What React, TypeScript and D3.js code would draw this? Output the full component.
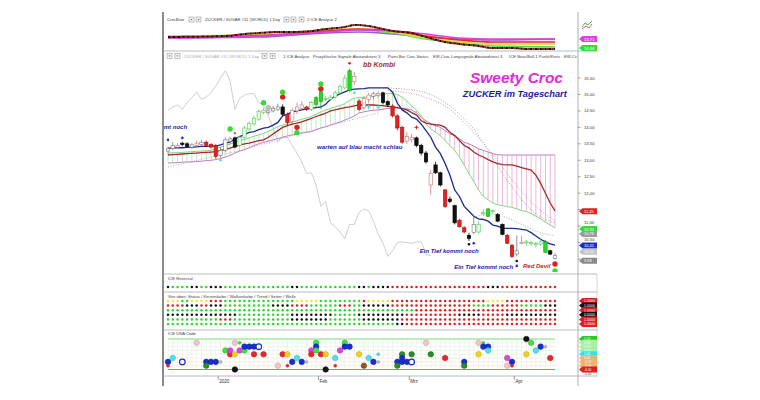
import React from 'react';
import * as d3 from 'd3';

// ---------------- DATA ----------------
const opens = [13.28,13.35,13.40,13.52,13.50,13.40,13.45,13.48,13.55,13.48, 13.45,13.15,13.30,13.58,13.68,13.45,13.70,13.95,14.10,14.25, 14.45,14.45,14.50,14.55,14.62,14.40,14.18,14.50,14.58,14.62, 14.55,14.70,14.78,14.88,14.85,14.92,15.05,15.20,15.12,15.55, 14.80,14.60,14.85,14.95,14.98,15.05,14.78,14.65,14.35,14.00, 13.58,13.62,13.68,13.45,13.22,12.25,12.86,12.62,12.10,11.82, 11.62,11.18,10.95,10.72,10.80,10.82,11.38,11.30,11.45,11.35, 11.05,10.72,10.42,10.15,10.50,10.50,10.48,10.44,10.45,10.20, 10.25,10.02];
const highs = [13.42,13.55,13.52,13.56,13.55,13.52,13.60,13.62,13.60,13.52, 13.50,13.40,13.70,13.70,13.72,13.75,14.05,14.18,14.35,14.55, 14.60,14.58,14.65,14.72,14.70,14.45,14.60,14.75,14.80,14.65, 14.80,14.95,15.15,14.95,14.98,15.12,15.30,15.60,15.78,15.68, 14.85,14.95,15.05,15.08,15.10,15.08,14.82,14.70,14.40,14.05, 13.85,13.80,13.72,13.50,13.28,12.70,12.95,12.65,12.12,11.90, 11.65,11.22,11.00,10.80,11.35,11.15,11.52,11.55,11.50,11.40, 11.08,10.76,10.45,10.72,10.70,10.58,10.56,10.52,10.65,10.58, 10.28,10.18];
const lows = [13.20,13.30,13.35,13.42,13.38,13.35,13.40,13.44,13.40,13.35, 13.05,13.08,13.25,13.50,13.38,13.40,13.65,13.90,14.05,14.20, 14.40,14.40,14.45,14.50,14.35,14.05,14.10,14.40,14.52,14.50, 14.50,14.60,14.55,14.78,14.80,14.88,15.00,15.15,15.08,15.30, 14.50,14.55,14.75,14.85,14.90,14.70,14.62,14.30,13.90,13.50, 13.50,13.55,13.40,13.15,12.90,11.95,12.58,12.20,11.55,11.70, 11.05,10.95,10.78,10.55,10.75,10.78,11.30,11.28,11.38,11.12, 10.72,10.45,10.03,10.08,10.45,10.40,10.40,10.35,10.40,10.18, 10.12,9.98];
const closes = [13.35,13.45,13.45,13.48,13.42,13.47,13.52,13.55,13.45,13.40, 13.12,13.30,13.62,13.65,13.40,13.70,13.98,14.12,14.28,14.48, 14.52,14.50,14.58,14.62,14.40,14.15,14.52,14.62,14.68,14.55, 14.75,14.90,15.08,14.85,14.92,15.05,15.25,15.50,15.72,15.40, 14.55,14.88,14.98,15.02,15.03,14.75,14.68,14.35,13.98,13.55, 13.72,13.70,13.45,13.22,12.95,12.60,12.62,12.25,11.60,11.75, 11.10,10.98,10.82,10.62,11.05,11.05,11.42,11.52,11.47,11.15, 10.75,10.48,10.08,10.25,10.50,10.52,10.50,10.47,10.52,10.52, 10.15,10.10];
const candleStyle = ('wwpkkwpwrr' + 'rwwwkhhhhh' + 'hwwwkrpppr' + 'hgghhhhhgp' + 'rppwpkkrrr' + 'ppkkkpkkrk' + 'krrkwhhghk' + 'krrwphhhhg' + 'kw').split('');

const tenkan = [13.37,13.37,13.38,13.38,13.39,13.40,13.41,13.42,13.42,13.43, 13.43,13.47,13.52,13.55,13.65,13.72,13.78,13.85,13.87,13.93, 13.98,14.00,14.07,14.15,14.35,14.40,14.47,14.50,14.53,14.56, 14.58,14.60,14.62,14.70,14.85,14.95,15.02,15.08,15.14,15.16, 15.17,15.18,15.20,15.20,15.20,15.20,15.20,15.07,14.74,14.53, 14.44,14.31,14.25,14.10,13.90,13.70,13.40,13.20,12.90,12.55, 12.10,11.90,11.60,11.45,11.30,11.22,11.20,11.15,11.03,11.00, 10.94,10.93,10.93,10.92,10.90,10.88,10.80,10.70,10.60,10.52, 10.46,10.42];
const kijun = [13.16,13.17,13.18,13.19,13.20,13.21,13.22,13.23,13.24,13.25, 13.26,13.30,13.33,13.37,13.42,13.46,13.50,13.52,13.56,13.60, 13.62,13.70,13.80,13.90,14.00,14.05,14.10,14.13,14.17,14.22, 14.27,14.33,14.38,14.43,14.50,14.53,14.57,14.60,14.62,14.65, 14.68,14.68,14.68,14.68,14.67,14.66,14.64,14.62,14.60,14.57, 14.53,14.45,14.38,14.20,14.13,14.10,14.08,14.07,14.00,13.85, 13.75,13.60,13.45,13.37,13.25,13.16,13.10,13.02,12.95,12.90, 12.87,12.86,12.86,12.82,12.78,12.74,12.70,12.55,12.30,12.00, 11.70,11.46];
const spanA = [13.22,13.23,13.23,13.24,13.25,13.26,13.27,13.28,13.29,13.30, 13.35,13.40,13.45,13.49,13.55,13.60,13.63,13.68,13.73,13.77, 13.82,13.88,13.95,14.02,14.07,14.11,14.16,14.20,14.25,14.29, 14.33,14.40,14.47,14.53,14.57,14.62,14.66,14.72,14.82,14.89, 14.90,14.91,14.93,14.95,14.97,15.00,15.03,15.03,15.00,14.92, 14.80,14.65,14.53,14.35,14.10,13.95,13.85,13.75,13.60,13.45, 13.30,13.10,12.85,12.60,12.35,12.10,11.90,11.80,11.70,11.65, 11.62,11.59,11.57,11.52,11.47,11.44,11.38,11.30,11.22,11.12, 11.03,10.95];
const spanB = [12.92,12.92,12.93,12.94,12.95,12.95,12.96,12.97,12.99,13.00, 13.02,13.05,13.10,13.15,13.22,13.28,13.32,13.38,13.45,13.50, 13.55,13.58,13.62,13.66,13.70,13.74,13.77,13.80,13.83,13.85, 13.87,13.93,13.98,14.02,14.07,14.12,14.16,14.22,14.28,14.35, 14.44,14.47,14.50,14.52,14.53,14.55,14.57,14.58,14.59,14.58, 14.56,14.53,14.45,14.30,14.20,14.12,14.05,14.00,13.90,13.80, 13.75,13.65,13.55,13.50,13.43,13.35,13.30,13.25,13.20,13.17, 13.16,13.16,13.16,13.16,13.16,13.16,13.16,13.16,13.16,13.16, 13.16,13.16];

const dotAIdx = [45, 52, 57, 61, 64, 67, 70, 73, 76, 79, 81];
const dotAVal = [15.20, 15.12, 14.85, 14.40, 13.95, 13.30, 12.60, 12.00, 11.50, 11.20, 11.10];
const dotBIdx = [46, 53, 59, 63, 67, 71, 74, 77, 81];
const dotBVal = [15.12, 14.95, 14.55, 14.00, 13.35, 12.60, 12.05, 11.60, 11.15];
const dotCIdx = [64, 67, 70, 74, 77, 81];
const dotCVal = [11.25, 11.38, 11.30, 11.05, 10.85, 10.70];
const dotLeftIdx = [0, 15, 30, 44];
const dotLeftVal = [12.80, 13.30, 13.90, 14.44];

const markerIdx = [0, 3, 11, 13, 14, 20, 21, 24, 24, 27, 27, 32, 32, 38, 39, 42, 44, 52, 63, 64, 73, 73, 81, 81];
const markerPrice = [13.62, 13.68, 13.00, 13.95, 13.82, 14.75, 14.60, 15.07, 14.92, 14.00, 13.84, 15.32, 15.17, 15.95, 15.05, 14.62, 14.62, 14.00, 10.45, 10.48, 9.94, 9.79, 9.85, 9.64];
const markerColor = ['#2030c0','#2030c0','#40e0e8','#33dd33','#888','#33dd33','#bbbbbb','#33dd33','#e02020','#e02020','#33dd33','#33dd33','#e02020','#e02020','#40e0e8','#40e0e8','#40e0e8','#e02020','#111','#2030c0','#111','#2030c0','#e02020','#33dd33'];
const markerKind = ['d','d','d','c','d','c','c','c','c','c','c','c','c','d','d','x','x','x','d','d','d','d','c','c'];

const priceTicks = [15.5, 15, 14.5, 14, 13.5, 13, 12.5, 12, 11.5, 11, 10.5, 10];
const priceBoxVal = [11.45, 10.91, 10.76, 10.41, 10.22, 9.95];
const priceBoxText = ['11,45', '10,91', '10,76', '10,41', '10,22', '9,98'];
const priceBoxColor = ['#dd2020', '#33dd33', '#9a9a9a', '#1f2fc0', '#c4c4c4', '#8a8a8a'];

const monthLabels = ['2020', 'Feb', 'Mrz', 'Apr'];
const monthIdx = [10.5, 31.5, 50.5, 72.5];

const reversalRow = 'k' + 'gggg' + 'kk' + 'gg' + 'kkk' + 'gggggggggggggg' + 'kk' + 'gggggggggggg' + 'kk' + 'g' + 'kkkk' + 'rrrrrrrrrrrrrrrrrrrr' + 'kkk' + 'rrrrrrrrrrrr';
const statusRows = [
  'yyy' + 'gg' + 'yyyy' + 'rrr' + 'ggggggggggggggg' + 'yyyyy' + 'ggggggggg' + 'r' + 'yyyyy' + 'rrrrrrrrrrrrrrrrrrrr' + 'yyyy' + 'rrrrrrrrrrr',
  'rrrr' + 'kkk' + 'rr' + 'kkk' + 'gggggggggg' + 'kkkk' + 'rrrr' + 'gggggg' + 'rrr' + 'gg' + 'kkkkkk' + 'rrrrrrrrrrrrrrrrr' + 'gggg' + 'rrrrrr' + 'ggggg' + 'kkk',
  'gggggggggggggggggggggggggggggggggggggggggggggggggggg' + 'rrrrrrrrrrrrrrrrrrrrrrrrrrrrrr',
  'kkkkkkkkkkkkkkk' + 'ggggggggggg' + 'kkkkkkkkk' + 'ggggg' + 'kkkkkkkkkk' + 'rrrrrrrrrrr' + 'kkkkk' + 'rrrrr' + 'kkkkkkkkkkk',
  'ggggggggggg' + 'rrr' + 'gggggggggggg' + 'kkkkkkkk' + 'ggggggg' + 'kkkkkkkk' + 'rrrrrrrrrrrrrrrrrrrrrrrrrrrrrrrrr',
  'gggggggggggggggggggggggggggggggggggggggggggggggg' + 'kk' + 'rrrrrrrrrrrrrrrrrrrrrrrrrrrrrrrr',
];
const statusLabels = ['1.0000', '1.0000', '1.0000', '0.0000', '1.0000', '1.0000'];

const dnaIdx = [0,0,1,3,6,8,9,10,8,11,12,13,13,14,14,14,15,15,16,16,17,18,19,18,20,23,24,25,25,26,27,28,29,30,30,31,31,31,32,33,33,35,35,36,37,37,38,40,41,42,43,44,44,48,48,49,49,49,50,51,51,54,55,58,62,62,65,66,65,66,67,67,71,71,72,72,75,76,75,77,78,79,80];
const dnaLevel = [-1,-2,0,-1,4,-1,-1,-1,-2,-1,2,1,2,1,4,-3,4,2,2,3,3,3,3,1,1,-2,1,1,-2,-1,0,-1,-1,2,1,4,3,2,1,1,-3,0,-2,2,4,3,3,1,-2,0,-1,1,-1,-1,-2,1,0,-1,-1,-1,1,4,1,0,-1,-2,4,4,1,3,3,2,0,-2,-1,-2,5,4,1,2,3,3,0];
const dnaColor = ['b','r','c','b','p','b','b','b','d','s','g','r','m','y','p','k','g','m','g','b','b','b','b','r','r','p','r','y','r','b','c','b','s','m','r','g','b','g','r','y','k','c','r','m','g','b','b','y','n','c','b','c','s','b','d','d','b','b','b','b','d','p','d','r','b','d','p','g','y','b','b','c','m','p','b','r','k','g','y','c','b','s','r'];
const dnaKind = ['f','s','f','o','f','f','f','f','f','s','f','f','f','f','f','f','s','f','f','f','f','f','o','f','f','f','f','f','s','f','f','f','s','f','f','f','f','f','f','f','f','f','s','f','f','f','f','f','f','f','f','s','s','f','f','f','f','f','f','o','f','f','f','f','f','f','f','s','f','f','f','f','f','f','f','s','f','f','f','f','f','s','f'];
const dnaLabelVal = [5, 4, 3, 2, 1, 0, -1, -2, -3];
const dnaLabelText = ['5.00', '4.00', '3.00', '2.00', '1.00', '0.00', '-1.00', '-2.00', '-4.00'];
const dnaLabelColor = ['#22cc22', '#aaeeaa', '#aaeeaa', '#aaeeaa', '#33e0e8', '#f5b070', '#f5b070', '#f5b070', '#dd2020'];

const crocIdx = [0, 12, 16, 19, 23, 26, 30, 33, 37, 39, 42, 44, 47, 51, 54, 58, 61, 65, 68, 72, 75, 81];
const crocDash = [13, 14, 16, 17, 18, 18, 19, 21, 23, 25, 24, 22, 19, 17, 13, 8, 6, 4, 2, 2, 1, 1];
const crocBandIdx = [0, 19, 33, 40, 47, 54, 61, 68, 81];
const crocMagenta = [12, 14, 18, 20, 19, 16, 12, 11, 11];
const crocRed = [13, 14.5, 19, 21, 19, 14, 10, 8, 8];
const crocYellow = [14, 15, 20, 21, 18, 12, 8, 6, 6];
const crocGreen = [14, 15, 19, 20, 17, 11, 7, 4, 3];
const crocPurple = [12, 13, 17, 18, 16, 13, 11, 10, 11];

const annoText = ['bb Kombi', 'Sweety Croc', 'ZUCKER im Tageschart', 'warten auf blau macht schlau', 'Ein Tief kommt noch', 'Ein Tief kommt noch', 'Red Devil', 'Ein Tief kommt noch'];
const annoIdx = [40.8, 63.2, 61.7, 31.2, 52.7, 59.9, 74.3, 4.0];
const annoPrice = [15.82, 15.35, 14.91, 13.33, 10.17, 9.71, 9.72, 13.95];
const annoColor = ['#a8301f', '#e22ad8', '#1d1aa8', '#2323a8', '#2323a8', '#2323a8', '#d42020', '#2323a8'];
const annoSize = [7, 15.5, 9.3, 6.1, 6, 6, 6, 6];

// ---------------- STYLE MAPS ----------------
const candleFill: Record<string, string> = { g: '#22dd22', h: '#eafbea', r: '#e42020', k: '#111111', w: '#ffffff', p: '#ffffff' };
const candleStroke: Record<string, string> = { g: '#14a014', h: '#55cc55', r: '#b01010', k: '#000000', w: '#777777', p: '#c87878' };
const dotColor: Record<string, string> = { g: '#2bd82b', r: '#dd1f1f', k: '#111111', y: '#f2e43a' };
const dnaPalette: Record<string, string> = { b: '#1a2ecc', r: '#e02a2a', c: '#4fe0e8', p: '#f2c4c8', d: '#2a8a2a', s: '#bbbbbb', g: '#44dd44', m: '#e040e0', y: '#f0d020', k: '#111111', n: '#8a5a1a' };

const FONT = 'Liberation Sans, Arial, sans-serif';
const fmt = (v: number) => d3.format('.2f')(v).replace('.', ',');

export default function App() {
  const n = closes.length;
  const x = d3.scaleLinear().domain([0, n - 1]).range([168, 555]);
  const y = d3.scaleLinear().domain([10, 15.5]).range([259, 78]);
  const yTop = d3.scaleLinear().domain([0, 36]).range([50, 14]);
  const yDna = d3.scaleLinear().domain([-3, 5]).range([369.5, 339]);
  const yStatus = d3.scalePoint<number>().domain(d3.range(6)).range([301, 324]);

  const fullLine = (arr: number[]) => d3.line<number>().x((_, i) => x(i)).y((v) => y(v))(arr) || '';
  const knotLine = (idx: number[], vals: number[], ys: d3.ScaleLinear<number, number>, curve: d3.CurveFactory = d3.curveMonotoneX) =>
    d3.line<number>().x((_, k) => x(idx[k])).y((v) => ys(v)).curve(curve)(vals) || '';
  const chikou = d3.line<number>().x((_, k) => x(k)).y((v) => y(v))(closes.slice(26)) || '';

  const pennant = (yy: number) => `M579,${yy} L582.5,${yy - 3} L597,${yy - 3} L597,${yy + 3} L582.5,${yy + 3} Z`;

  const smallText = { fontFamily: FONT, fontSize: 4.2, fill: '#444' };

  const btn = (bx: number, by: number, key: string) => (
    <g key={key}>
      <rect x={bx} y={by} width={5} height={5} fill="#f4f4f4" stroke="#888" strokeWidth={0.5} />
      <path d={`M${bx + 1.5},${by + 2} L${bx + 3.5},${by + 2} L${bx + 2.5},${by + 3.3} Z`} fill="#555" />
    </g>
  );

  // tick label placement relative to coloured value boxes
  const boxYs = priceBoxVal.map((v) => y(v));
  const tickLabelY = (p: number): number | null => {
    const ty = y(p);
    const near = boxYs.map((by) => by - ty);
    if (near.some((d) => Math.abs(d) < 2.5)) return null; // hidden under a box
    const below = near.filter((d) => d >= 2.5 && d < 7);
    if (below.length) return ty - 1.8;
    return ty + 1.5;
  };

  return (
    <svg width={760} height={400} style={{ position: 'absolute', left: 0, top: 0, background: '#fff' }} fontFamily={FONT}>
      <defs>
        <clipPath id="mainClip"><rect x={164} y={52} width={413} height={220} /></clipPath>
        <clipPath id="topClip"><rect x={164} y={13} width={413} height={38} /></clipPath>
      </defs>
      <rect x={0} y={0} width={760} height={400} fill="#fff" />

      {/* frame */}
      <line x1={163} x2={163} y1={12} y2={386} stroke="#8a8a8a" strokeWidth={2} />
      <line x1={578} x2={578} y1={12} y2={386} stroke="#999" strokeWidth={0.8} />
      <line x1={597} x2={597} y1={274} y2={377} stroke="#bbb" strokeWidth={0.6} />
      {[51, 274, 292, 330, 376].map((yy) => (
        <line key={yy} x1={163} x2={597} y1={yy} y2={yy} stroke="#aaa" strokeWidth={0.8} />
      ))}

      {/* ---------------- TOP CrocBow panel ---------------- */}
      <text x={167} y={21} {...smallText}>CrocBow</text>
      {btn(189, 17, 't1')}
      {btn(196, 17, 't2')}
      <text x={205} y={21} {...smallText}>ZUCKER / SUGAR #11 (WORLD)  1 Day</text>
      {btn(284, 17, 't3')}
      {btn(291, 17, 't4')}
      {btn(299, 17, 't5')}
      <text x={307} y={21} {...smallText}>2 ICE Analyse 2</text>
      <g clipPath="url(#topClip)">
        <path d={d3.area<number>().x((_, k) => x(crocBandIdx[k])).y0((_, k) => yTop(crocGreen[k])).y1((v) => yTop(v)).curve(d3.curveMonotoneX)(crocMagenta) || ''} fill="#f6cfe3" opacity={0.55} />
        <path d={knotLine(crocBandIdx, crocPurple, yTop)} fill="none" stroke="#9a5ad8" strokeWidth={1.6} />
        <path d={knotLine(crocBandIdx, crocGreen, yTop)} fill="none" stroke="#55dd55" strokeWidth={1.6} />
        <path d={knotLine(crocBandIdx, crocYellow, yTop)} fill="none" stroke="#f0d830" strokeWidth={1.6} />
        <path d={knotLine(crocBandIdx, crocRed, yTop)} fill="none" stroke="#dd3030" strokeWidth={1.4} />
        <path d={knotLine(crocBandIdx, crocMagenta, yTop)} fill="none" stroke="#e040d8" strokeWidth={1.6} />
        <path d={knotLine(crocIdx, crocDash, yTop)} fill="none" stroke="#111" strokeWidth={2} strokeDasharray="2.4,2.4" />
        <path d={knotLine(crocIdx, crocDash, yTop)} fill="none" stroke="#9a1a1a" strokeWidth={2} strokeDasharray="2.4,2.4" strokeDashoffset={2.4} />
      </g>
      <path d={pennant(yTop(crocMagenta[crocMagenta.length - 1]))} fill="#e040e0" />
      <text x={584} y={yTop(crocMagenta[crocMagenta.length - 1]) + 1.6} fontSize={4.2} fill="#fff">13,71</text>
      <path d={pennant(yTop(crocGreen[crocGreen.length - 1]) + 1)} fill="#33dd33" />
      <text x={584} y={yTop(crocGreen[crocGreen.length - 1]) + 2.6} fontSize={4.2} fill="#fff">10,96</text>
      <path d="M582,27 L585,23 L588,25 L592,21" fill="none" stroke="#2a9a2a" strokeWidth={0.8} />
      <path d="M582,29 L586,26 L589,28 L592,24" fill="none" stroke="#cc3333" strokeWidth={0.8} />

      {/* ---------------- MAIN panel ---------------- */}
      {btn(167, 53.5, 'm1')}
      {btn(175, 53.5, 'm2')}
      <text x={184} y={57.8} fontFamily={FONT} fontSize={4.2} fill="#aaa">ZUCKER / SUGAR #11 (WORLD)  1 Day</text>
      {btn(262, 53.5, 'm3')}
      {btn(270, 53.5, 'm4')}
      <g clipPath="url(#mainClip)">
        <text x={283} y={57.8} {...smallText}>1 ICE Analyse</text>
        <text x={313} y={57.8} {...smallText}>Prozyklische Signale Abstandstest 3</text>
        <text x={388} y={57.8} {...smallText}>Paint Bar Croc Status</text>
        <text x={433} y={57.8} {...smallText}>EW-Croc Longsignale Abstandstest 3</text>
        <text x={509} y={57.8} {...smallText}>ICE Bear/Bull 1 Punkt/Kreis</text>
        <text x={564} y={57.8} {...smallText}>EW-Croc Status</text>

        {/* cloud hatching */}
        {spanA.map((a, i) => (
          <line key={'h' + i} x1={x(i)} x2={x(i)} y1={y(a)} y2={y(spanB[i])} stroke={a >= spanB[i] ? '#b5e3b5' : '#e6a6cf'} strokeWidth={0.8} />
        ))}
        {/* chikou */}
        <path d={chikou} fill="none" stroke="#cfcfcf" strokeWidth={1} />
        {/* dotted envelopes */}
        <path d={knotLine(dotLeftIdx, dotLeftVal, y)} fill="none" stroke="#9a9a9a" strokeWidth={0.8} strokeDasharray="1,1.6" />
        <path d={knotLine(dotAIdx, dotAVal, y)} fill="none" stroke="#9a9a9a" strokeWidth={0.9} strokeDasharray="1,1.6" />
        <path d={knotLine(dotBIdx, dotBVal, y)} fill="none" stroke="#c98aa8" strokeWidth={0.9} strokeDasharray="1,1.6" />
        <path d={knotLine(dotCIdx, dotCVal, y)} fill="none" stroke="#88b888" strokeWidth={0.9} strokeDasharray="1,1.6" />
        {/* ichimoku lines */}
        <path d={fullLine(spanB)} fill="none" stroke="#c27cc8" strokeWidth={1} />
        <path d={fullLine(spanA)} fill="none" stroke="#84d484" strokeWidth={1} />
        <path d={fullLine(kijun)} fill="none" stroke="#a32a2a" strokeWidth={1.3} />
        <path d={fullLine(tenkan)} fill="none" stroke="#1c2a8c" strokeWidth={1.3} />

        {/* candles */}
        {closes.map((c, i) => {
          const s = candleStyle[i];
          const o = opens[i];
          const top = y(Math.max(o, c));
          const h = Math.max(1, y(Math.min(o, c)) - top);
          return (
            <g key={'c' + i}>
              <line x1={x(i)} x2={x(i)} y1={y(highs[i])} y2={y(lows[i])} stroke={candleStroke[s]} strokeWidth={0.8} />
              <rect x={x(i) - 1.7} y={top} width={3.4} height={h} fill={candleFill[s]} stroke={candleStroke[s]} strokeWidth={0.6} />
            </g>
          );
        })}

        {/* markers */}
        {markerIdx.map((mi, k) => {
          const cx = x(mi);
          const cy = y(markerPrice[k]);
          const col = markerColor[k];
          if (markerKind[k] === 'x') {
            return (
              <g key={'mk' + k} stroke={col} strokeWidth={1}>
                <line x1={cx - 2} x2={cx + 2} y1={cy} y2={cy} />
                <line x1={cx} x2={cx} y1={cy - 2} y2={cy + 2} />
              </g>
            );
          }
          return <circle key={'mk' + k} cx={cx} cy={cy} r={markerKind[k] === 'c' ? 2.7 : 1.3} fill={col} />;
        })}

        {/* annotations */}
        {annoText.map((t, k) => (
          <text key={'a' + k} x={x(annoIdx[k])} y={y(annoPrice[k])} fontSize={annoSize[k]} fontWeight="bold" fontStyle="italic" fill={annoColor[k]} textAnchor={k === 7 ? 'end' : 'start'}>{t}</text>
        ))}
      </g>

      {/* price axis */}
      {priceTicks.map((p) => {
        const ly = tickLabelY(p);
        return (
          <g key={'pt' + p}>
            <line x1={578} x2={580.5} y1={y(p)} y2={y(p)} stroke="#666" strokeWidth={0.6} />
            {ly !== null && <text x={584} y={ly} fontSize={4.2} fill="#333">{fmt(p)}</text>}
          </g>
        );
      })}
      {priceBoxVal.map((v, k) => (
        <g key={'pb' + k}>
          <path d={pennant(y(v))} fill={priceBoxColor[k]} />
          <text x={584} y={y(v) + 1.5} fontSize={4} fill="#fff">{priceBoxText[k]}</text>
        </g>
      ))}

      {/* ---------------- ICE Reversal ---------------- */}
      <text x={168} y={280} {...smallText}>ICE Reversal</text>
      {reversalRow.split('').map((c, i) => (
        <circle key={'rv' + i} cx={x(i)} cy={287} r={1.25} fill={dotColor[c]} />
      ))}

      {/* ---------------- Status rows ---------------- */}
      <text x={168} y={298} {...smallText}>Von oben: Status / Kerzenfarbe / Wolkenfarbe / Trend / Setter / Welle</text>
      {statusRows.map((row, r) => (
        <g key={'sr' + r}>
          {row.split('').map((c, i) => (
            <circle key={i} cx={x(i)} cy={yStatus(r)} r={1.25} fill={dotColor[c]} />
          ))}
          <path d={pennant(yStatus(r) as number)} fill={dotColor[row[row.length - 1]]} />
          <text x={584} y={(yStatus(r) as number) + 1.4} fontSize={3.6} fill="#fff">{statusLabels[r]}</text>
        </g>
      ))}

      {/* ---------------- ICE DNA Code ---------------- */}
      <text x={168} y={335} {...smallText}>ICE DNA Code</text>
      {d3.range(n).map((i) => (
        <line key={'dv' + i} x1={x(i)} x2={x(i)} y1={yDna(5)} y2={yDna(-3)} stroke={i % 2 ? '#f1e2d2' : '#e2f2e2'} strokeWidth={0.5} />
      ))}
      {dnaLabelVal.map((lv, k) => (
        <line key={'dh' + k} x1={x(0)} x2={x(n - 1)} y1={yDna(lv)} y2={yDna(lv)}
          stroke={lv === 5 ? '#77dd77' : lv === -3 ? '#e07070' : lv > 0 ? '#d2efd2' : '#f3dcc6'} strokeWidth={lv === 5 || lv === -3 ? 1 : 0.5} />
      ))}
      {dnaIdx.map((di, k) => {
        const col = dnaPalette[dnaColor[k]];
        const kind = dnaKind[k];
        const r = kind === 's' ? 1.5 : 2.8;
        return (
          <circle key={'dn' + k} cx={x(di)} cy={yDna(dnaLevel[k])} r={r}
            fill={kind === 'o' ? '#fff' : col} stroke={kind === 'o' ? col : d3.color(col)!.darker(0.6).toString()} strokeWidth={kind === 'o' ? 1.2 : 0.5} />
        );
      })}
      {dnaLabelVal.map((lv, k) => (
        <g key={'dl' + k}>
          <path d={pennant(yDna(lv))} fill={dnaLabelColor[k]} />
          <text x={584} y={yDna(lv) + 1.2} fontSize={3.2} fill="#fff">{dnaLabelText[k]}</text>
        </g>
      ))}
      <text x={584} y={375} fontSize={3.2} fill="#333">-5.00</text>

      {/* ---------------- x axis ---------------- */}
      {monthIdx.map((mi, k) => (
        <g key={'m' + k}>
          <line x1={x(mi)} x2={x(mi)} y1={376} y2={380} stroke="#666" strokeWidth={0.6} />
          <text x={x(mi) + 1} y={383} fontSize={4.6} fill="#333">{monthLabels[k]}</text>
        </g>
      ))}
    </svg>
  );
}
